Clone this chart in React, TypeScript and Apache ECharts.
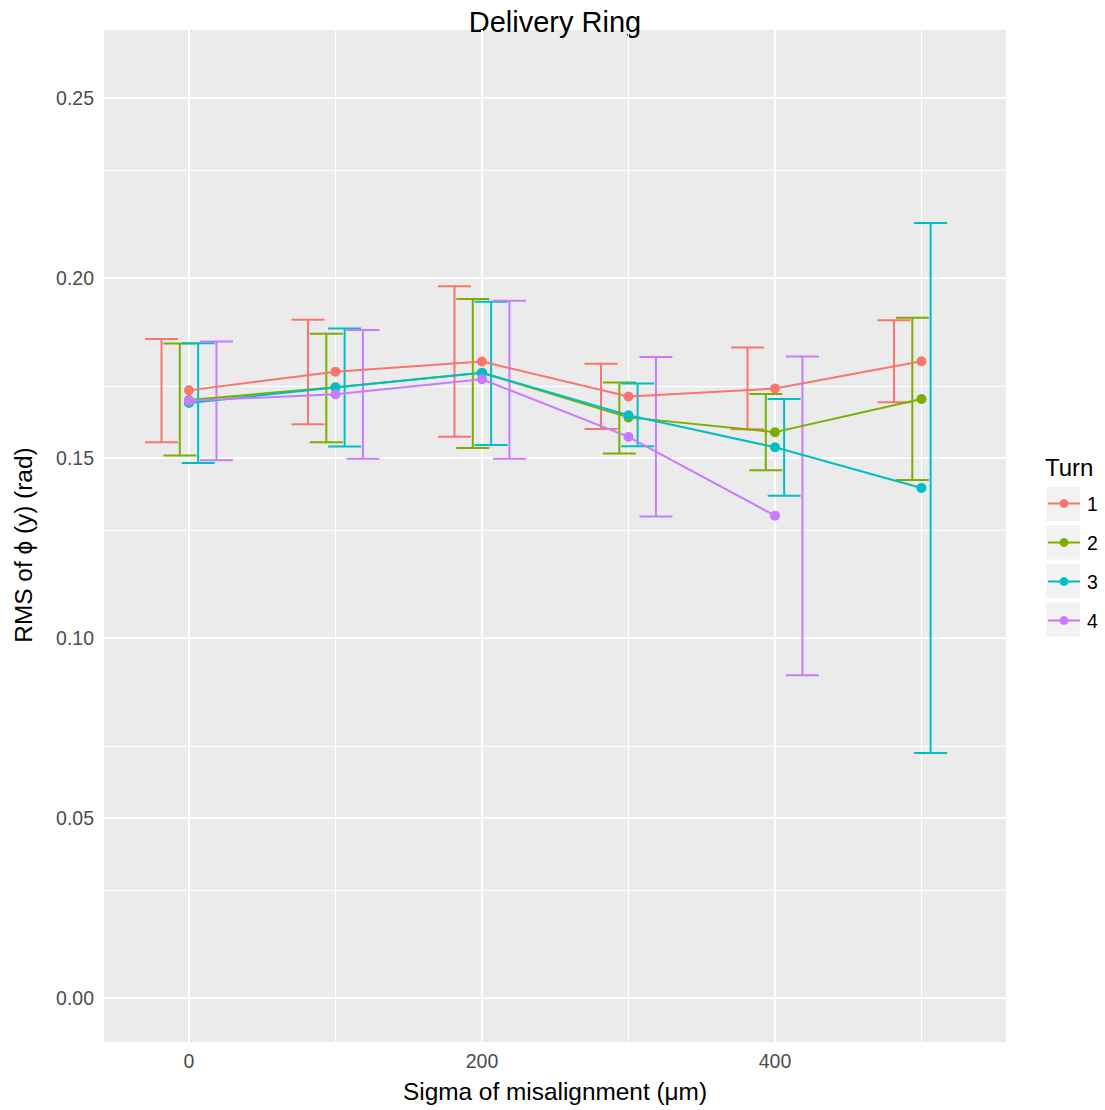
import React, { useEffect, useRef } from "react";
import * as echarts from "echarts";

const xs = [0, 100, 200, 300, 400, 500];
const turnNames = ["1", "2", "3", "4"];
const turnColors = ["#F8766D", "#7CAE00", "#00BFC4", "#C77CFF"];
const dodge = [-18.75, -6.25, 6.25, 18.75];

const turn1Mean = [0.1688, 0.174, 0.1768, 0.1671, 0.1693, 0.1769];
const turn1Lo = [0.1544, 0.1594, 0.1559, 0.1581, 0.158, 0.1655];
const turn1Hi = [0.1831, 0.1884, 0.1977, 0.1762, 0.1807, 0.1883];

const turn2Mean = [0.1661, 0.1697, 0.1737, 0.1613, 0.1572, 0.1664];
const turn2Lo = [0.1507, 0.1544, 0.1528, 0.1513, 0.1466, 0.1439];
const turn2Hi = [0.1818, 0.1845, 0.1942, 0.171, 0.1678, 0.189];

const turn3Mean = [0.1653, 0.1696, 0.1737, 0.1619, 0.153, 0.1417];
const turn3Lo = [0.1486, 0.1532, 0.1536, 0.1533, 0.1395, 0.0681];
const turn3Hi = [0.1819, 0.186, 0.1934, 0.1707, 0.1664, 0.2153];

const turn4Mean = [0.1659, 0.1677, 0.1719, 0.1559, 0.134, null];
const turn4Lo = [0.1494, 0.1498, 0.1498, 0.1338, 0.0897, null];
const turn4Hi = [0.1824, 0.1856, 0.1937, 0.1781, 0.1782, null];

const xMajor = [0, 200, 400];
const xMinor = [100, 300, 500];
const yMajor = [0, 0.05, 0.1, 0.15, 0.2, 0.25];
const yMinor = [0.025, 0.075, 0.125, 0.175, 0.225];

const means = [turn1Mean, turn2Mean, turn3Mean, turn4Mean];
const los = [turn1Lo, turn2Lo, turn3Lo, turn4Lo];
const his = [turn1Hi, turn2Hi, turn3Hi, turn4Hi];

const FONT = "'Liberation Sans', Arial, Helvetica, sans-serif";
const CAP_HALF = 11.25;

export default function App() {
  const ref = useRef<HTMLDivElement>(null);
  useEffect(() => {
    if (!ref.current) return;
    const chart = echarts.init(ref.current, null, { renderer: "svg" });

    const gridSeries: any = {
      type: "line",
      name: "grid",
      data: [],
      z: 1,
      silent: true,
      markLine: {
        silent: true,
        z: 1,
        symbol: ["none", "none"],
        label: { show: false },
        animation: false,
        data: [
          ...xMinor.map((v) => ({ xAxis: v, lineStyle: { color: "#FFFFFF", width: 1, type: "solid" } })),
          ...yMinor.map((v) => ({ yAxis: v, lineStyle: { color: "#FFFFFF", width: 1, type: "solid" } })),
          ...xMajor.map((v) => ({ xAxis: v, lineStyle: { color: "#FFFFFF", width: 2, type: "solid" } })),
          ...yMajor.map((v) => ({ yAxis: v, lineStyle: { color: "#FFFFFF", width: 2, type: "solid" } })),
        ],
      },
    };

    const errSeries = turnNames.map((n, k) => {
      const data: any[] = [];
      xs.forEach((x, i) => {
        if (his[k][i] != null && los[k][i] != null) data.push([x + dodge[k], los[k][i], his[k][i]]);
      });
      const color = turnColors[k];
      return {
        type: "custom",
        name: "eb" + n,
        z: 3,
        silent: true,
        encode: { x: 0, y: [1, 2] },
        data,
        renderItem: (params: any, api: any) => {
          const x = api.value(0);
          const lo = api.value(1);
          const hi = api.value(2);
          const pHi = api.coord([x, hi]);
          const pLo = api.coord([x, lo]);
          const half = api.coord([x + CAP_HALF, hi])[0] - pHi[0];
          const style = { stroke: color, lineWidth: 2, fill: null };
          return {
            type: "group",
            children: [
              { type: "line", shape: { x1: pHi[0] - half, y1: pHi[1], x2: pHi[0] + half, y2: pHi[1] }, style },
              { type: "line", shape: { x1: pHi[0], y1: pHi[1], x2: pLo[0], y2: pLo[1] }, style },
              { type: "line", shape: { x1: pLo[0] - half, y1: pLo[1], x2: pLo[0] + half, y2: pLo[1] }, style },
            ],
          };
        },
      };
    });

    const lineSeries = turnNames.map((n, k) => {
      const data: any[] = [];
      xs.forEach((x, i) => {
        if (means[k][i] != null) data.push([x, means[k][i]]);
      });
      return {
        type: "line",
        name: n,
        z: 4 + k,
        data,
        symbol: "circle",
        symbolSize: 10,
        itemStyle: { color: turnColors[k] },
        lineStyle: { color: turnColors[k], width: 2 },
        silent: true,
      };
    });

    const option: any = {
      animation: false,
      backgroundColor: "#FFFFFF",
      textStyle: { fontFamily: FONT },
      grid: {
        left: 104,
        right: 99,
        top: 30,
        bottom: 68,
        show: true,
        backgroundColor: "#EBEBEB",
        borderWidth: 0,
        containLabel: false,
      },
      xAxis: {
        type: "value",
        min: -58,
        max: 557.7,
        axisLine: { show: false },
        splitLine: { show: false },
        axisTick: {
          show: true,
          length: 5,
          customValues: xMajor,
          lineStyle: { color: "#333333", width: 1.5 },
        },
        axisLabel: {
          customValues: xMajor,
          margin: 9,
          fontSize: 19.5,
          color: "#4D4D4D",
          fontFamily: FONT,
          formatter: (v: number) => String(Math.round(v)),
        },
      },
      yAxis: {
        type: "value",
        min: -0.0122,
        max: 0.2689,
        axisLine: { show: false },
        splitLine: { show: false },
        axisTick: {
          show: true,
          length: 5,
          customValues: yMajor,
          lineStyle: { color: "#333333", width: 1.5 },
        },
        axisLabel: {
          customValues: yMajor,
          margin: 10,
          fontSize: 19.5,
          color: "#4D4D4D",
          fontFamily: FONT,
          formatter: (v: number) => v.toFixed(2),
        },
      },
      legend: {
        data: turnNames,
        orient: "vertical",
        left: 1042,
        top: 488.5,
        itemWidth: 32,
        itemHeight: 11,
        itemGap: 19,
        selectedMode: false,
        textStyle: { fontFamily: FONT, fontSize: 19.5, color: "#000000", padding: [0, 0, 0, 2] },
      },
      graphic: [
        ...turnNames.map((n, k) => ({
          type: "rect",
          left: 1046,
          top: 487 + 38.5 * k,
          z: -1,
          shape: { width: 34, height: 34 },
          style: { fill: "#F2F2F2" },
          silent: true,
        })),
        {
          type: "text",
          x: 555,
          y: 22,
          style: {
            text: "Delivery Ring",
            font: `29px ${FONT}`,
            fill: "#000000",
            textAlign: "center",
            textVerticalAlign: "middle",
          },
        },
        {
          type: "text",
          x: 1045,
          y: 467,
          style: {
            text: "Turn",
            font: `24px ${FONT}`,
            fill: "#000000",
            textAlign: "left",
            textVerticalAlign: "middle",
          },
        },
        {
          type: "text",
          x: 555,
          y: 1091,
          style: {
            text: "Sigma of misalignment (\u03BCm)",
            font: `24.4px ${FONT}`,
            fill: "#000000",
            textAlign: "center",
            textVerticalAlign: "middle",
          },
        },
        {
          type: "text",
          x: 23,
          y: 545,
          rotation: Math.PI / 2,
          style: {
            text: "RMS of \u03D5 (y) (rad)",
            font: `24.4px ${FONT}`,
            fill: "#000000",
            textAlign: "center",
            textVerticalAlign: "middle",
          },
        },
      ],
      series: [gridSeries, ...errSeries, ...lineSeries],
    };

    chart.setOption(option);
    return () => chart.dispose();
  }, []);

  return (
    <div
      ref={ref}
      style={{ position: "fixed", left: 0, top: 0, width: 1105, height: 1110 }}
    />
  );
}
